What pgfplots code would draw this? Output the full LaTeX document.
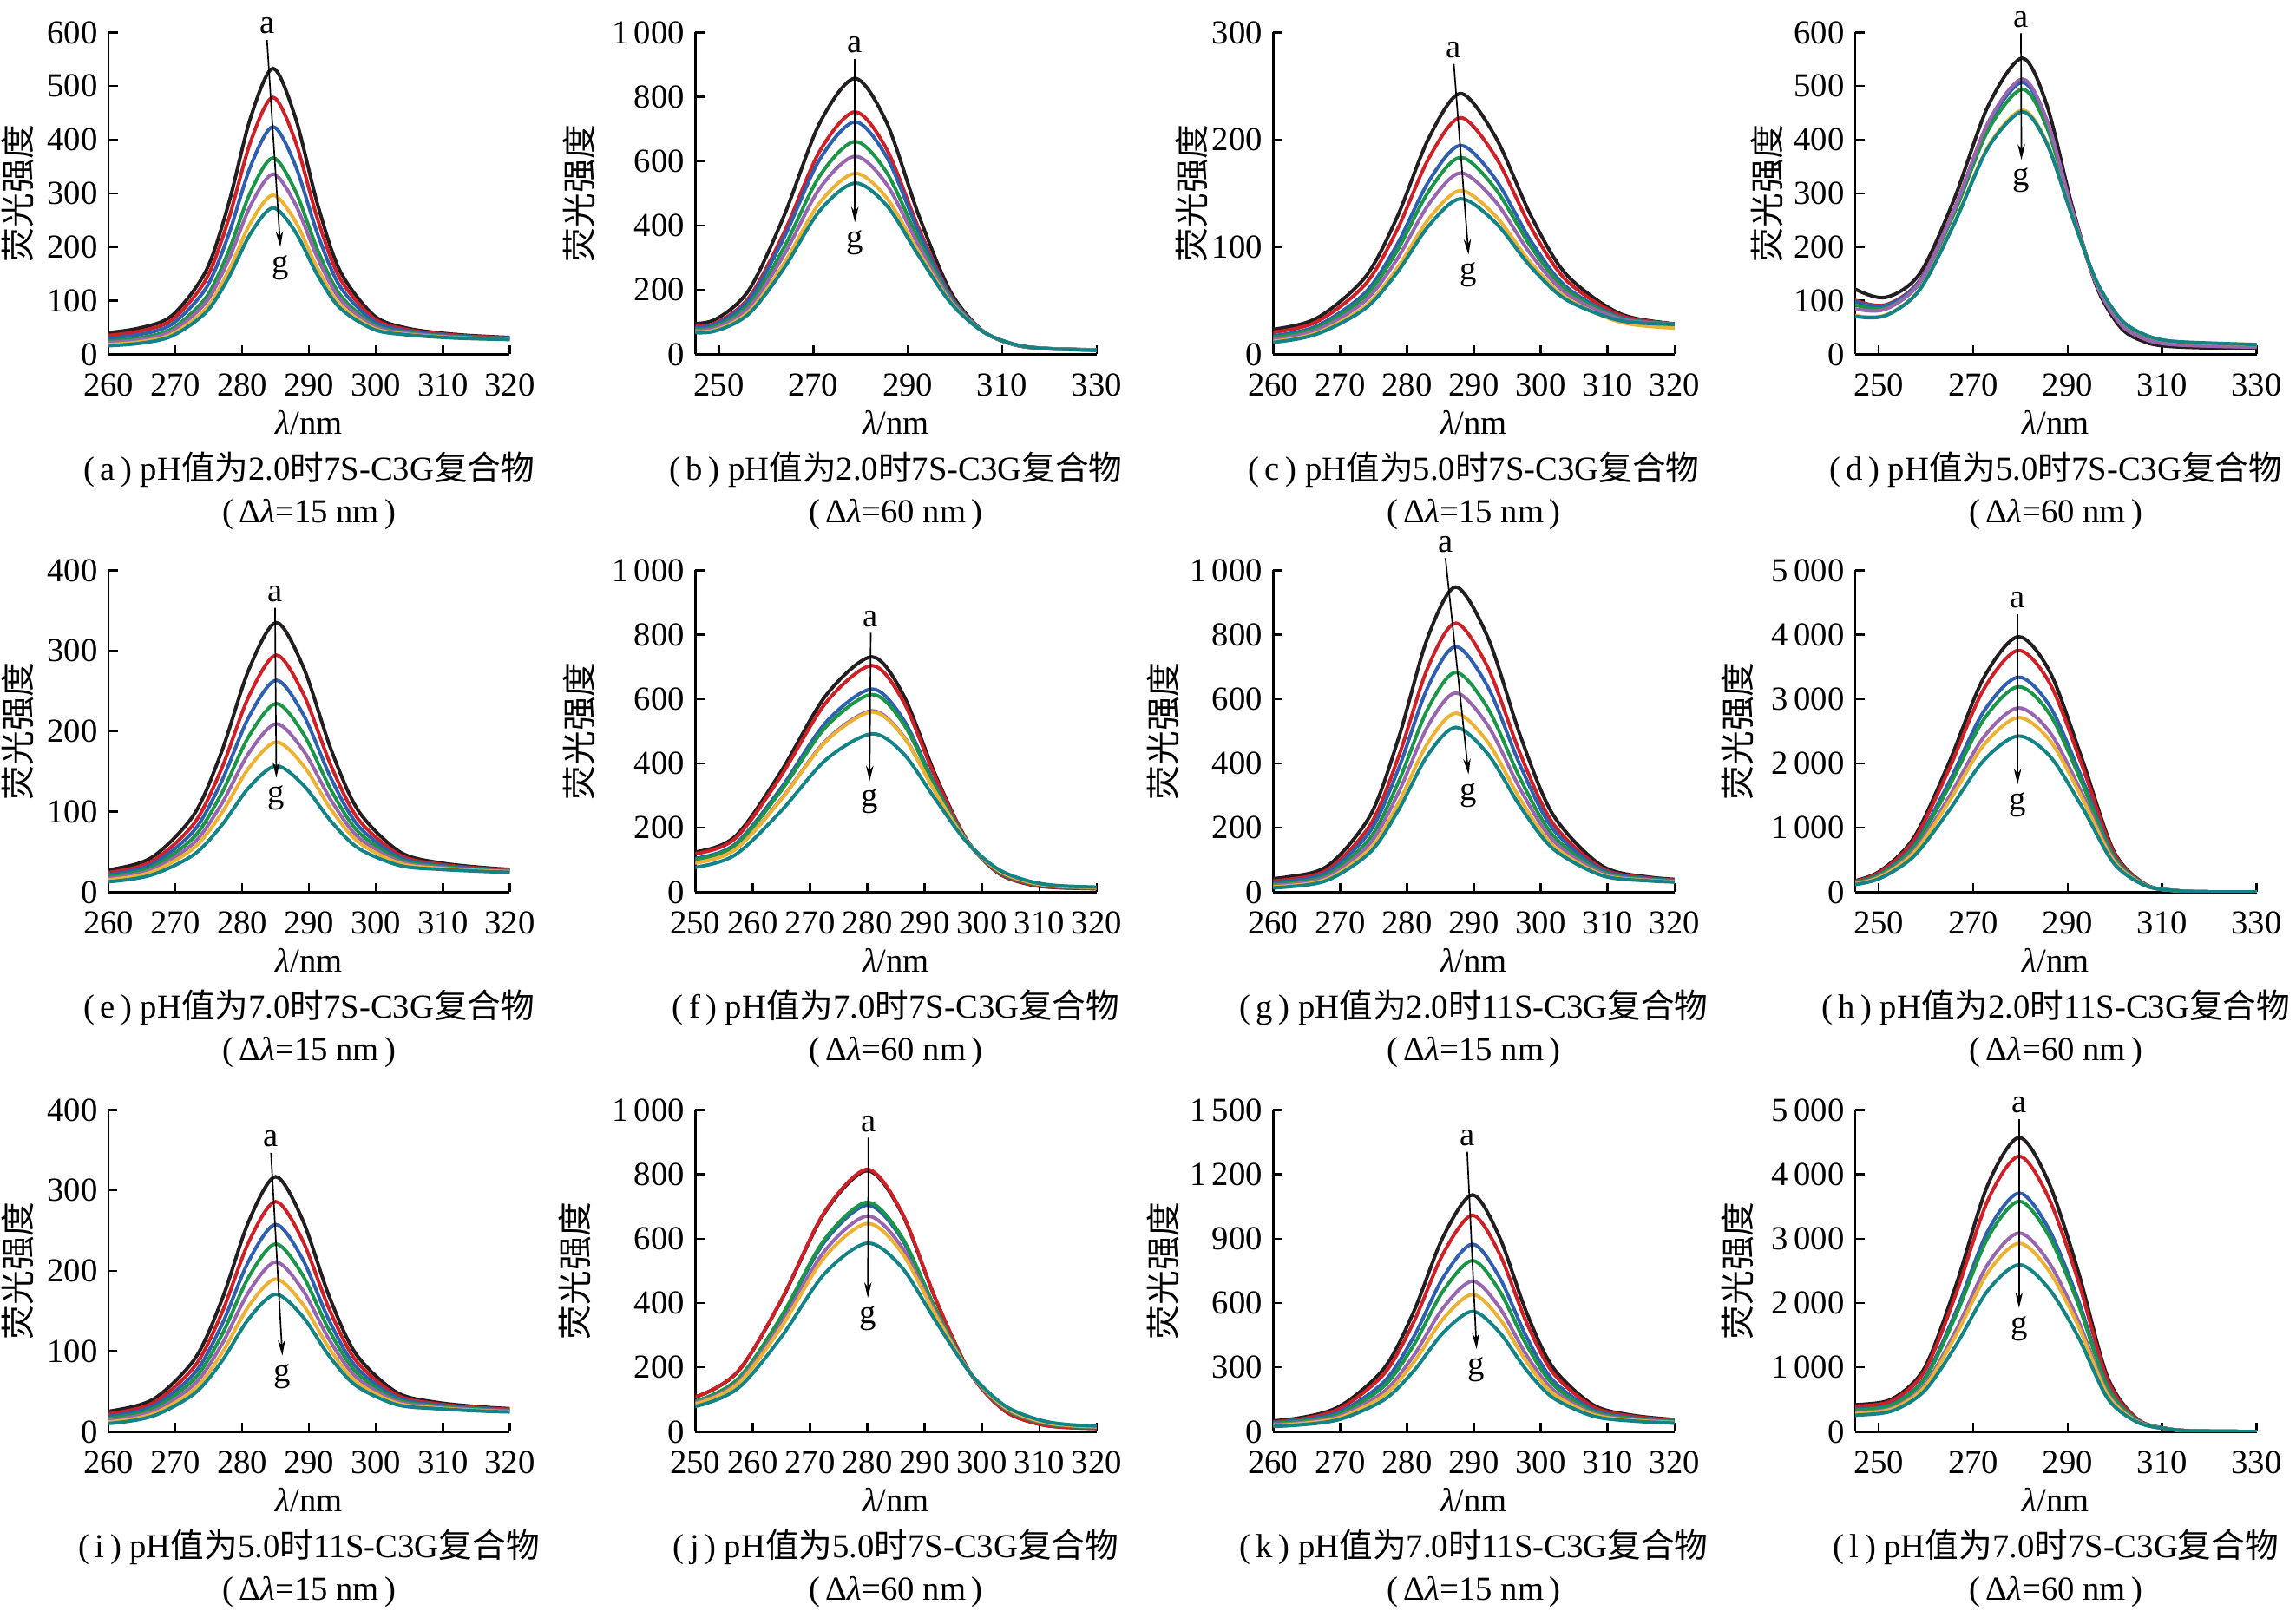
\documentclass[border=0pt]{standalone}
\usepackage{fontspec}
\setmainfont{Liberation Serif}
\newfontfamily\cjk{Noto Sans CJK SC}
\usepackage{pgfplots}
\pgfplotsset{compat=1.18}
\usepackage{pgfplotstable}
\usetikzlibrary{arrows.meta}

\definecolor{ca}{HTML}{231F20}
\definecolor{cb}{HTML}{CD2027}
\definecolor{cc}{HTML}{2F5FAF}
\definecolor{cd}{HTML}{1B9648}
\definecolor{ce}{HTML}{9866B0}
\definecolor{cf}{HTML}{ECB234}
\definecolor{cg}{HTML}{138386}

\newcommand\tfont{\fontsize{11}{13}\selectfont}
\newcommand\capfont{\fontsize{11}{13}\selectfont}
\newcommand\ylfont{\cjk\fontsize{11.3}{13}\selectfont}

\pgfplotsset{
  panel/.style={
    scale only axis, width=46.25mm, height=37.1mm,
    anchor=south west,
    axis x line*=bottom, axis y line*=left,
    tick align=inside, major tick length=1.05mm,
    axis line style={line width=0.7pt},
    tick style={line width=0.7pt, black},
    ticklabel style={font=\tfont},
    xticklabel style={yshift=-1.0mm},
    /pgf/number format/assume math mode=true,
    /pgf/number format/1000 sep={\,},
    scaled ticks=false,
    clip mode=individual,
    ymin=0,
    xlabel={\textit{λ}/nm},
    xlabel style={at={(axis description cs:0.5,0)}, anchor=base, yshift=-9.2mm, font=\tfont},
    ylabel={荧光强度},
    ylabel style={at={(axis description cs:#1,0.5)}, anchor=center, font=\ylfont},
    every axis plot/.append style={line width=1.13pt, smooth},
  },
}

\newcommand\curves[1]{%
  \addplot[ca] table[x=x,y=a]{#1};
  \addplot[cb] table[x=x,y=b]{#1};
  \addplot[cc] table[x=x,y=c]{#1};
  \addplot[cd] table[x=x,y=d]{#1};
  \addplot[ce] table[x=x,y=e]{#1};
  \addplot[cf] table[x=x,y=f]{#1};
  \addplot[cg] table[x=x,y=g]{#1};
}
\newcommand\ag[4]{%
  \draw[line width=0.48pt, -{Stealth[length=1.8mm,width=0.85mm]}]
    (axis cs:#1,#2) node[anchor=south, inner sep=1.7pt, font=\tfont]{a}
    -- (axis cs:#3,#4) node[anchor=north, inner sep=2.5pt, font=\tfont]{g};
}
\newcommand\capt[4]{%
  \node[anchor=base, font=\capfont, yshift=-14.5mm] at (axis description cs:0.5,0)
    {(\,#1\,) pH{\cjk 值为}#2{\cjk 时}#3-C3G{\cjk 复合物}};
  \node[anchor=base, font=\capfont, yshift=-19.4mm] at (axis description cs:0.5,0)
    {(\,Δ\textit{λ}=#4 nm\,)};
}

\pgfplotstableread{
x a b c d e f g
251.1 32.3 28.1 23.8 19.3 16.9 13.9 12.0
257.8 37.5 32.7 27.9 22.8 20.1 16.7 14.6
264.5 48.5 42.6 36.6 30.3 27.0 22.8 20.2
269.5 72.2 64.3 56.2 47.7 43.3 37.6 34.1
274.55 154.7 138.7 122.5 105.3 96.4 84.9 77.8
277.9 277.8 249.4 220.6 190.2 174.3 153.9 141.3
281.25 441.3 396.4 350.8 302.7 277.6 245.3 225.4
284.6 533 478.9 424.1 366.1 335.9 296.9 273
287.95 441.3 396.9 351.9 304.4 279.6 247.6 228.0
291.3 277.8 250.5 222.9 193.6 178.4 158.8 146.7
294.65 154.7 140.4 125.8 110.5 102.5 92.1 85.8
299.7 72.2 66.8 61.3 55.4 52.4 48.5 46.1
304.7 48.5 45.9 43.3 40.6 39.2 37.3 36.2
311.4 37.5 36.1 34.6 33.1 32.3 31.2 30.6
318.1 32.3 31.4 30.5 29.5 29.0 28.4 28.0
324.8 29.4 28.8 28.2 27.5 27.2 26.8 26.5
}\tA

\pgfplotstableread{
x a b c d e f g
233.8 110.1 101.2 98.6 93.3 89.4 84.9 82.3
241.3 96.9 88.5 86.0 81.0 77.3 73.0 70.6
248.8 105.4 94.3 91.0 84.4 79.5 73.8 70.6
256.3 198.5 175.0 168.0 154.2 143.7 131.8 125.0
263.8 430.5 378.3 362.9 332.2 309.1 282.5 267.5
271.3 717.1 630.1 604.3 553.1 514.5 470.2 445.2
278.8 857 753 722 661 615 562 532
285.55 719.1 636.8 612.4 564.1 527.6 485.7 462
292.3 432.5 392.1 380.1 356.3 338.4 317.8 306.2
299.05 194.5 183.6 180.3 173.9 169.0 163.4 160.3
305.8 73.4 72.7 72.5 72.1 71.8 71.5 71.3
312.55 29.9 30.3 30.4 30.6 30.8 31.0 31.1
319.3 18.1 17.9 17.9 17.7 17.7 17.6 17.5
332.8 13.1 12.7 12.6 12.3 12.1 11.9 11.8
}\tB

\pgfplotstableread{
x a b c d e f g
250 17.7 15.4 12.9 11.8 10.3 8.7 7.9
259.5 22.7 20.0 16.8 15.5 13.7 11.7 10.8
266.6 34.0 30.6 26.6 24.9 22.7 20.2 19.0
273.75 71.8 65.1 57.4 54.1 49.8 44.9 42.6
278.5 127.5 115.6 102.1 96.2 88.5 79.9 75.9
283.25 201.4 182.6 161.2 151.9 139.8 126.2 119.8
288 243 220.5 194.7 183.5 169 152.6 145
293.25 202.4 184.0 163.1 154.0 142.2 128.8 122.6
298.5 129.5 118.5 105.9 100.4 93.3 85.3 81.6
303.75 74.8 69.3 63.1 60.4 56.9 53.0 51.1
311.6 38.6 37.0 35.2 34.5 33.5 30.5 31.8
319.5 28.7 28.5 28.3 28.2 28.0 24.5 27.8
330 23.7 24.0 24.3 24.4 24.6 21.5 24.9
}\tC

\pgfplotstableread{
x a b c d e f g
236.9 170 139.3 136.3 126.5 110 97.3 95
244.15 125 103.3 101.2 94.3 86 73.6 72
251.4 106 92.1 90.7 86.3 84 73.0 72
258.65 150 137.7 136.5 132.6 134 120.9 120
265.9 288 269.1 267.3 261.3 268 243.4 242
273.15 463 431.0 427.9 417.8 432 387.3 385
280.4 552 511 507 494 513 455 452
285.65 463 433.7 430.9 421.6 435.2 393.7 391.6
290.9 278 269.8 269.0 266.3 270.2 258.5 257.9
296.15 125.4 129.5 129.9 131.3 129.3 135.2 135.5
301.4 48.1 54.5 55.2 57.2 54.2 63.3 63.8
306.65 22.1 27.6 28.1 29.8 27.3 35.0 35.4
311.9 14.5 18.6 19.0 20.4 18.4 24.3 24.6
322.4 11.3 14.9 15.3 16.5 14.8 19.9 20.2
332.9 10.0 13.1 13.4 14.3 12.9 17.3 17.5
}\tD

\pgfplotstableread{
x a b c d e f g
252.3 21.4 18.9 16.9 15.1 13.5 12.1 10.2
260.5 28.3 24.9 22.3 19.8 17.7 15.8 13.3
266.65 44.1 39.1 35.2 31.6 28.4 25.6 21.9
272.8 96.6 85.3 76.6 68.5 61.5 55.2 46.9
276.9 174.2 153.4 137.4 122.5 109.5 97.9 82.8
281.0 277.0 243.6 217.9 193.9 173.1 154.4 130.0
285.1 335 294.6 263.4 234.4 209.2 186.6 157
289.2 278.4 245.3 219.7 196.0 175.2 156.7 132.5
293.3 176.8 156.6 141.0 126.5 113.9 102.5 87.8
297.4 100.6 90.1 82.0 74.5 67.9 62.1 54.4
303.55 50.1 46.2 43.3 40.5 38.1 35.9 33.1
309.7 36.3 34.5 33.1 31.8 30.6 29.6 28.3
317.9 29.4 28.4 27.7 27.0 26.4 25.9 25.2
326.1 26.1 25.6 25.2 24.8 24.5 24.2 23.8
}\tE

\pgfplotstableread{
x a b c d e f g
240.8 118.7 112.9 97.3 93.7 82.9 82.2 67.6
248.8 120.8 115.5 101.0 97.6 87.6 87.0 73.5
256.8 170.8 164.4 147.1 143.1 131.1 130.3 114.2
264.8 370.5 356.8 319.7 311.0 285.3 283.6 249
272.8 611.7 589.1 528.1 513.7 471.5 468.7 411.7
280.8 731 704 631 614 563.5 560 492
286.3 612.7 592.1 536.5 523.4 484.9 482.4 430.4
291.8 367.5 358.8 335.4 329.8 313.6 312.5 290.6
297.3 163.8 163.0 160.7 160.1 158.5 158.4 156.3
302.8 59.8 61.1 64.8 65.6 68.1 68.3 71.7
308.3 23.7 24.9 28.0 28.7 30.9 31.0 33.9
313.8 13.6 14.3 16.1 16.6 17.9 18.0 19.7
324.8 9.3 9.8 11.1 11.5 12.4 12.4 13.7
}\tF

\pgfplotstableread{
x a b c d e f g
253.3 33.4 27.1 23.0 18.4 14.8 11.3 8.8
261.8 46.2 38.4 33.3 27.7 23.2 18.9 15.8
268.2 82.5 71.0 63.5 55.3 48.8 42.3 37.8
274.55 240.0 210.4 191.3 170.1 153.3 136.7 125.1
278.8 482.5 424.5 387.1 345.8 312.7 280.3 257.6
283.05 788.4 694.5 634.0 567.0 513.5 461.1 424.3
287.3 948 835.6 763 683 619 556 512
292.15 788.4 695.3 635.4 569.0 515.9 464.0 427.5
297.0 482.5 426.1 389.9 349.7 317.5 286.1 264.0
301.85 240.0 212.8 195.3 175.9 160.4 145.2 134.6
309.1 82.5 74.6 69.6 64.0 59.5 55.1 52.0
316.4 46.2 43.3 41.4 39.3 37.6 36.0 34.8
326.1 33.4 32.0 31.0 30.0 29.2 28.4 27.8
}\tG

\pgfplotstableread{
x a b c d e f g
235.4 80 77.2 71.9 69.9 65.7 63.7 60
242.75 140 133.8 121.7 117.3 107.7 103.4 95
250.1 320 304.8 275.2 264.6 241.1 230.5 210
257.45 850 810 732 703.8 642.1 613.9 560
264.8 2000 1897.9 1698.8 1627 1469.4 1397.6 1260
272.15 3320 3143.4 2799 2674.9 2402.2 2278.1 2040
279.5 3968 3755 3340 3191 2862 2713 2426
286.25 3420 3239.2 2886.8 2759.8 2480.7 2353.7 2110
293.0 2080 1976.5 1774.8 1702 1542.3 1469.5 1330
299.75 640 613.8 562.7 544.2 503.8 485.3 450
306.5 120 117.2 111.9 109.9 105.7 103.7 100
313.25 22 22 22 22 22 22 22
320 5 5 5 5 5 5 5
333.5 2 2 2 2 2 2 2
}\tH

\pgfplotstableread{
x a b c d e f g
253 20.2 17.5 15.1 13.0 11.1 9.2 7.6
261 26.7 23.4 20.3 17.7 15.3 13.0 11.0
267 42.0 37.4 33.3 29.8 26.5 23.4 20.6
273 91.8 82.6 74.2 67.1 60.4 54.1 48.5
277 165.0 148.7 133.9 121.2 109.4 98.3 88.3
281 262.1 236.4 212.8 192.8 174.1 156.5 140.7
285 317 286 257.6 233.5 211 189.8 170.8
289 263.8 238.3 215.0 195.2 176.7 159.2 143.6
293 168.3 152.6 138.2 126.0 114.6 103.8 94.2
297 96.7 88.4 80.7 74.3 68.2 62.5 57.4
303 49.4 46.1 43.1 40.5 38.2 35.9 33.9
309 36.6 34.9 33.4 32.1 30.9 29.7 28.7
317 30.1 29.1 28.2 27.4 26.6 25.9 25.3
325 27.1 26.4 25.7 25.2 24.6 24.1 23.7
}\tI

\pgfplotstableread{
x a b c d e f g
242.5 97 97 84.5 85.6 80.6 78 71
250 108 108 94 95 89.6 86.6 78.7
257.5 188.4 189.3 163.4 165.5 155.5 150.1 135.9
265 407.5 409.5 353.7 358.2 336.6 325.1 294.5
272.5 678.6 682.0 589.0 596.5 560.6 541.4 490.4
280 811 815 704 713 670 647 586
286 679.6 682.6 599.3 606.1 573.9 556.7 511.0
292 407.5 408.7 376.2 378.9 366.3 359.6 341.8
298 181.4 181.4 181.2 181.2 181.1 181.1 181.0
304 64.9 64.6 72.6 71.9 75.0 76.6 81.0
310 23.8 23.6 30.1 29.6 32.1 33.4 37.0
316 12.6 12.4 16.6 16.3 17.9 18.7 21.0
328 7.8 7.7 10.9 10.6 11.9 12.5 14.3
}\tJ

\pgfplotstableread{
x a b c d e f g
245.8 30 27 25.0 22.1 18.4 16.0 13.0
254.6 40 36 33.8 30.1 25.5 22.4 18.6
263.4 62 56 52.3 47.0 40.4 36.0 30.5
270.0 119.9 109.1 93.8 85.2 74.4 67.3 58.4
276.6 296.5 270.8 234.2 213.6 187.8 170.9 149.6
281.0 559.2 511.0 442.3 403.7 355.2 323.5 283.5
285.4 908.1 829.9 718.5 655.9 577.2 525.8 461.0
289.8 1104 1009 874 798 702 640 561
293.8 909.5 831.6 720.7 658.4 580.1 528.9 464.3
297.8 561.8 514.2 446.6 408.5 360.7 329.4 290.0
301.8 300.5 275.8 240.6 220.9 196.0 179.8 159.3
307.8 125.9 116.7 103.5 96.1 86.8 80.8 73.1
313.8 76.4 71.8 65.2 61.5 56.9 53.8 50.0
321.8 53.0 50.4 46.7 44.6 42.0 40.3 38.1
329.8 41.9 40.3 37.9 36.6 34.9 33.9 32.5
}\tK

\pgfplotstableread{
x a b c d e f g
239.8 420 395 345.7 334.8 292.3 278.7 250
246.45 425 401 353.8 343.3 302.6 289.5 262
253.1 520 492.1 437 424.8 377.3 362.1 330
259.75 1000 947.1 842.7 819.6 729.6 700.8 640
266.4 2290 2151.8 1879.2 1819.1 1584.1 1508.9 1350
273.05 3830 3588.9 3113.3 3008.4 2598.4 2467.2 2190
279.7 4571 4280 3708 3581 3088 2929 2595
285.95 3880 3637 3159 3053 2641 2509 2230
292.2 2500 2350 2054 1989 1734 1652 1480
298.45 850 801.5 706 685 602 576 520
304.7 200 192.7 178.2 175 162.5 158.5 150
310.95 50 49.3 47.8 47.5 46.2 45.8 45
317.2 12 12 12 12 12 12 12
333 3 3 3 3 3 3 3
}\tL

\begin{document}
\begin{tikzpicture}
\path[use as bounding box] (0,0) rectangle (264.6mm,185.7mm);

% ---------- row 1 ----------
\begin{axis}[panel={-0.225}, at={(12.50mm,144.86mm)},
  xmin=260, xmax=320, ymax=600, xtick={260,270,...,320}, ytick={0,100,...,600}]
\curves{\tA}
\ag{283.7}{586}{285.7}{200}
\capt{a}{2.0}{7S}{15}
\end{axis}

\begin{axis}[panel={-0.290}, at={(80.13mm,144.86mm)},
  xmin=245, xmax=330, ymax=1000, xtick={250,270,...,330}, ytick={0,200,...,1000}]
\curves{\tB}
\ag{278.8}{918}{278.8}{410}
\capt{b}{2.0}{7S}{60}
\end{axis}

\begin{axis}[panel={-0.202}, at={(146.73mm,144.86mm)},
  xmin=260, xmax=320, ymax=300, xtick={260,270,...,320}, ytick={0,100,...,300}]
\curves{\tC}
\ag{287.0}{270.7}{289.2}{92.9}
\capt{c}{5.0}{7S}{15}
\end{axis}

\begin{axis}[panel={-0.220}, at={(213.80mm,144.86mm)},
  xmin=245, xmax=330, ymax=600, xtick={250,270,...,330}, ytick={0,100,...,600}]
\curves{\tD}
\ag{280.1}{598.6}{280.2}{362.5}
\capt{d}{5.0}{7S}{60}
\end{axis}

% ---------- row 2 ----------
\begin{axis}[panel={-0.225}, at={(12.50mm,82.86mm)},
  xmin=260, xmax=320, ymax=400, xtick={260,270,...,320}, ytick={0,100,...,400}]
\curves{\tE}
\ag{284.9}{353.5}{285.1}{142.2}
\capt{e}{7.0}{7S}{15}
\end{axis}

\begin{axis}[panel={-0.290}, at={(80.13mm,82.86mm)},
  xmin=250, xmax=320, ymax=1000, xtick={250,260,...,320}, ytick={0,200,...,1000}]
\curves{\tF}
\ag{280.6}{805.8}{280.4}{344.7}
\capt{f}{7.0}{7S}{60}
\end{axis}

\begin{axis}[panel={-0.275}, at={(146.73mm,82.86mm)},
  xmin=260, xmax=320, ymax=1000, xtick={260,270,...,320}, ytick={0,200,...,1000}]
\curves{\tG}
\ag{285.75}{1038}{289.2}{366}
\capt{g}{2.0}{11S}{15}
\end{axis}

\begin{axis}[panel={-0.293}, at={(213.80mm,82.86mm)},
  xmin=245, xmax=330, ymax=5000, xtick={250,270,...,330}, ytick={0,1000,...,5000}]
\curves{\tH}
\ag{279.4}{4324}{279.4}{1676}
\capt{h}{2.0}{11S}{60}
\end{axis}

% ---------- row 3 ----------
\begin{axis}[panel={-0.225}, at={(12.50mm,20.66mm)},
  xmin=260, xmax=320, ymax=400, xtick={260,270,...,320}, ytick={0,100,...,400}]
\curves{\tI}
\ag{284.3}{346.6}{286.0}{94.5}
\capt{i}{5.0}{11S}{15}
\end{axis}

\begin{axis}[panel={-0.2995}, at={(80.13mm,20.66mm)},
  xmin=250, xmax=320, ymax=1000, xtick={250,260,...,320}, ytick={0,200,...,1000}]
\curves{\tJ}
\ag{280.2}{914}{280.1}{416}
\capt{j}{5.0}{7S}{60}
\end{axis}

\begin{axis}[panel={-0.275}, at={(146.73mm,20.66mm)},
  xmin=260, xmax=320, ymax=1500, xtick={260,270,...,320}, ytick={0,300,...,1500}]
\curves{\tK}
\ag{289.0}{1305}{290.4}{386}
\capt{k}{7.0}{11S}{15}
\end{axis}

\begin{axis}[panel={-0.293}, at={(213.80mm,20.66mm)},
  xmin=245, xmax=330, ymax=5000, xtick={250,270,...,330}, ytick={0,1000,...,5000}]
\curves{\tL}
\ag{279.7}{4862}{279.7}{1923}
\capt{l}{7.0}{7S}{60}
\end{axis}

\end{tikzpicture}
\end{document}
